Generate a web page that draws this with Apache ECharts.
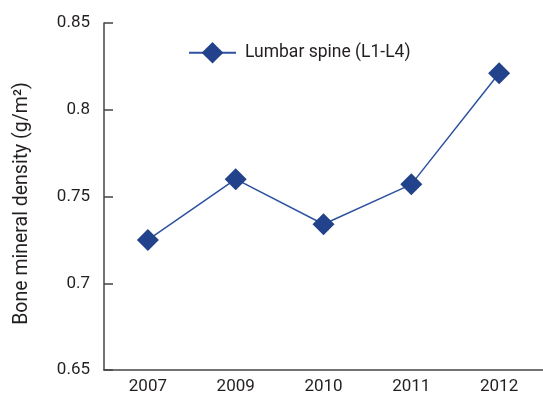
<!DOCTYPE html>
<html><head><meta charset="utf-8">
<script src="https://cdn.jsdelivr.net/npm/echarts@6/dist/echarts.min.js"></script>
<style>html,body{margin:0;padding:0;background:#fff}#c{width:543px;height:405px}</style>
</head><body><div id="c"></div>
<script>
const categories = ['2007', '2009', '2010', '2011', '2012'];
const lumbarSpine = [0.725, 0.760, 0.734, 0.757, 0.821];
const seriesName = 'Lumbar spine (L1-L4)';
const yTitle = 'Bone mineral density (g/m²)';
const yMin = 0.65, yMax = 0.85, yStep = 0.05;

const FONT = '"Roboto", sans-serif';
const chart = echarts.init(document.getElementById('c'), null, {renderer: 'canvas'});
chart.setOption({
  animation: false,
  backgroundColor: '#fff',
  grid: {left: 104, right: -1, top: 23, bottom: 35, containLabel: false},
  legend: {
    left: 183, top: 37,
    itemWidth: 47, itemHeight: 27, itemGap: 10,
    textStyle: {fontFamily: FONT, fontSize: 17.5, color: '#231f20', padding: [0,0,0,4]},
    data: [seriesName]
  },
  xAxis: {
    type: 'category', data: categories, boundaryGap: true,
    axisLine: {lineStyle: {color: '#444', width: 1.5}},
    axisTick: {inside: true, length: 8, lineStyle: {color: '#444', width: 1.5}},
    axisLabel: {fontFamily: FONT, fontSize: 17, color: '#231f20', margin: 8}
  },
  yAxis: {
    type: 'value', min: yMin, max: yMax, interval: yStep,
    name: yTitle, nameLocation: 'middle', nameGap: 72, nameRotate: 90,
    nameTextStyle: {fontFamily: FONT, fontSize: 19.5, color: '#231f20', padding: [0, 14, 0, 0]},
    axisLine: {show: true, lineStyle: {color: '#444', width: 1.5}},
    axisTick: {show: true, inside: true, length: 9, lineStyle: {color: '#444', width: 1.5}},
    splitLine: {show: false},
    axisLabel: {fontFamily: FONT, fontSize: 17, color: '#231f20', margin: 14,
      formatter: v => String(+v.toFixed(2))}
  },
  series: [{
    name: seriesName, type: 'line', data: lumbarSpine,
    symbol: 'diamond', symbolSize: [22, 22],
    lineStyle: {color: '#2d52a0', width: 1.5},
    itemStyle: {color: '#22428b'}
  }]
});
</script></body></html>
